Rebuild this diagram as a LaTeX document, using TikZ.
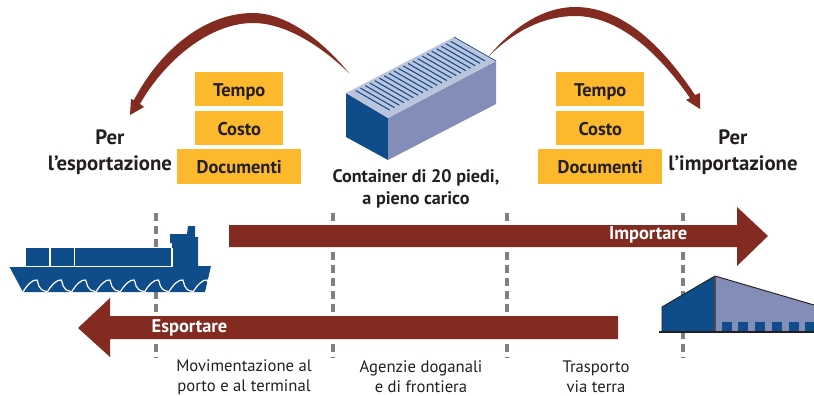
\documentclass[tikz,border=0pt]{standalone}
\usepackage{fontspec}
\setmainfont{PT Sans}
\definecolor{rust}{HTML}{842B21}
\definecolor{navy}{HTML}{0F4C8A}
\definecolor{lav}{HTML}{828EB8}
\definecolor{lavl}{HTML}{BCC3DC}
\definecolor{gold}{HTML}{FDB92D}
\definecolor{ink}{HTML}{231F20}
\tikzset{
  x=0.75pt,y=-0.75pt,
  tag/.style={fill=gold,inner sep=0pt,anchor=north west,text=ink,align=center,font=\fontsize{13.8}{14}\selectfont\bfseries},
  headtext/.style={text=ink,align=center,font=\fontsize{15.6}{19.5}\selectfont\bfseries},
  captext/.style={text=ink,align=center,font=\fontsize{12.5}{15}\selectfont},
  band/.style={fill=rust,draw=none},
  bandtext/.style={text=white,font=\fontsize{13.8}{14}\selectfont\bfseries},
  guide/.style={draw=black!50,line width=2.4pt,dash pattern=on 6pt off 3.8pt},
}
\newcommand{\tagbox}[6]{\node[tag,minimum width=#3*0.75pt,minimum height=#4*0.75pt,text height=13.5pt,text depth=3pt] (#5) at (#1,#2) {#6};}
\begin{document}
\begin{tikzpicture}
\useasboundingbox (0,0) rectangle (814,396);
% guides
\coordinate (g1a) at (156,213); \coordinate (g1b) at (156,358);
\coordinate (g2a) at (333,213); \coordinate (g2b) at (333,358);
\coordinate (g3a) at (507,213); \coordinate (g3b) at (507,358);
\coordinate (g4a) at (683,213); \coordinate (g4b) at (683,358);
\draw[guide] (g1a)--(g1b);
\draw[guide] (g2a)--(g2b);
\draw[guide] (g3a)--(g3b);
\draw[guide] (g4a)--(g4b);
% curved arrows
\fill[rust] (349,73) .. controls (320,38) and (285,13) .. (253,13)
  .. controls (205,13) and (160,50) .. (134,100) -- (131,99) -- (130,115) -- (144,107) -- (140,104)
  .. controls (165,60) and (210,23) .. (253,23) .. controls (285,23) and (320,45) .. (349,73) -- cycle;
\fill[rust] (488,57) .. controls (515,25) and (545,7) .. (575,7)
  .. controls (625,7) and (665,50) .. (695,95) -- (700,93) -- (700,109) -- (686,100) -- (690,98)
  .. controls (660,55) and (620,16) .. (575,16) .. controls (545,16) and (515,30) .. (488,57) -- cycle;
% tags
\tagbox{195}{72}{88}{34}{t1}{Tempo}
\tagbox{195}{111}{88}{34}{c1}{Costo}
\tagbox{177}{149}{124}{35}{d1}{Documenti}
\tagbox{556}{72}{88}{34}{t2}{Tempo}
\tagbox{556}{111}{88}{34}{c2}{Costo}
\tagbox{538}{149}{124}{35}{d2}{Documenti}
% container
\fill[navy] (346,93) -- (388,118) -- (388,160) -- (346,137) -- cycle;
\fill[lav] (388,118) -- (496,61) -- (496,104) -- (388,160) -- cycle;
\fill[lavl] (346,93) -- (454,37) -- (496,61) -- (388,118) -- cycle;
\foreach \i in {1,...,21}{
  \pgfmathsetmacro{\ax}{351+\i*4.75}
  \pgfmathsetmacro{\ay}{93-\i*2.46}
  \draw[navy,line width=0.8pt] (\ax,\ay) -- ++(34,19.5);
}
\draw[navy,line width=0.5pt] (454,37) -- (496,61);
% bands
\fill[band] (229,225) -- (737,225) -- (737,207) -- (768,236) -- (737,266) -- (737,247) -- (229,247) -- cycle;
\fill[band] (618,316) -- (110,316) -- (110,298) -- (78,328) -- (110,357) -- (110,339) -- (618,339) -- cycle;
\node[bandtext,anchor=east] (imp) at (692,235) {Importare};
\node[bandtext,anchor=west] (esp) at (147,328) {Esportare};
% ship
\fill[navy] (170,234) -- (187,234) -- (188,226) -- (195,226) -- (195,237) -- (198,237) -- (198,267) -- (172,267) -- (172,243) -- (170,243) -- cycle;
\fill[navy] (26,248) rectangle (171,266);
\fill[navy] (9,266) -- (211,266) -- (205,292) -- (23,292) -- cycle;
\draw[white,line width=0.8pt] (50,248) -- (50,266) (74.5,248) -- (74.5,266) (9,266.5) -- (172,266.5) -- (172,248);
\foreach \i in {0,...,7}{
  \begin{scope}[xshift=\i*24.3*0.75pt]
  \draw[white,line width=0.9pt] (23,292) .. controls (27,285) and (33,279) .. (37,280) .. controls (39,283) and (37,290) .. (47,291.5);
  \end{scope}
}
% warehouse
\fill[lav] (715,276) -- (814,305) -- (814,332) -- (715,332) -- cycle;
\fill[navy] (662,307) -- (715,276) -- (715,332) -- (662,332) -- cycle;
\draw[ink,line width=0.7pt] (662,332) -- (662,307) -- (715,276) -- (814,305);
\draw[ink!80,line width=1pt] (715,276) -- (715,332);
\foreach \a in {722,738,755,772,789}{\fill[navy] (\a,322) rectangle (\a+10,332);}
\fill[navy] (805,322) rectangle (814,332);
\draw[ink,line width=1.3pt] (659,332) -- (814,332);
% labels
\node[headtext] (pe) at (110,152) {Per\\l’esportazione};
\node[headtext] (pi) at (733,152) {Per\\l’importazione};
\node[headtext,font=\fontsize{13.6}{16.5}\selectfont\bfseries] (cn) at (416,189) {Container di 20 piedi,\\a pieno carico};
\node[captext] (l1) at (244,377) {Movimentazione al\\porto e al terminal};
\node[captext] (l2) at (421,377) {Agenzie doganali\\e di frontiera};
\node[captext] (l3) at (596,377) {Trasporto\\via terra};
\end{tikzpicture}
\end{document}
